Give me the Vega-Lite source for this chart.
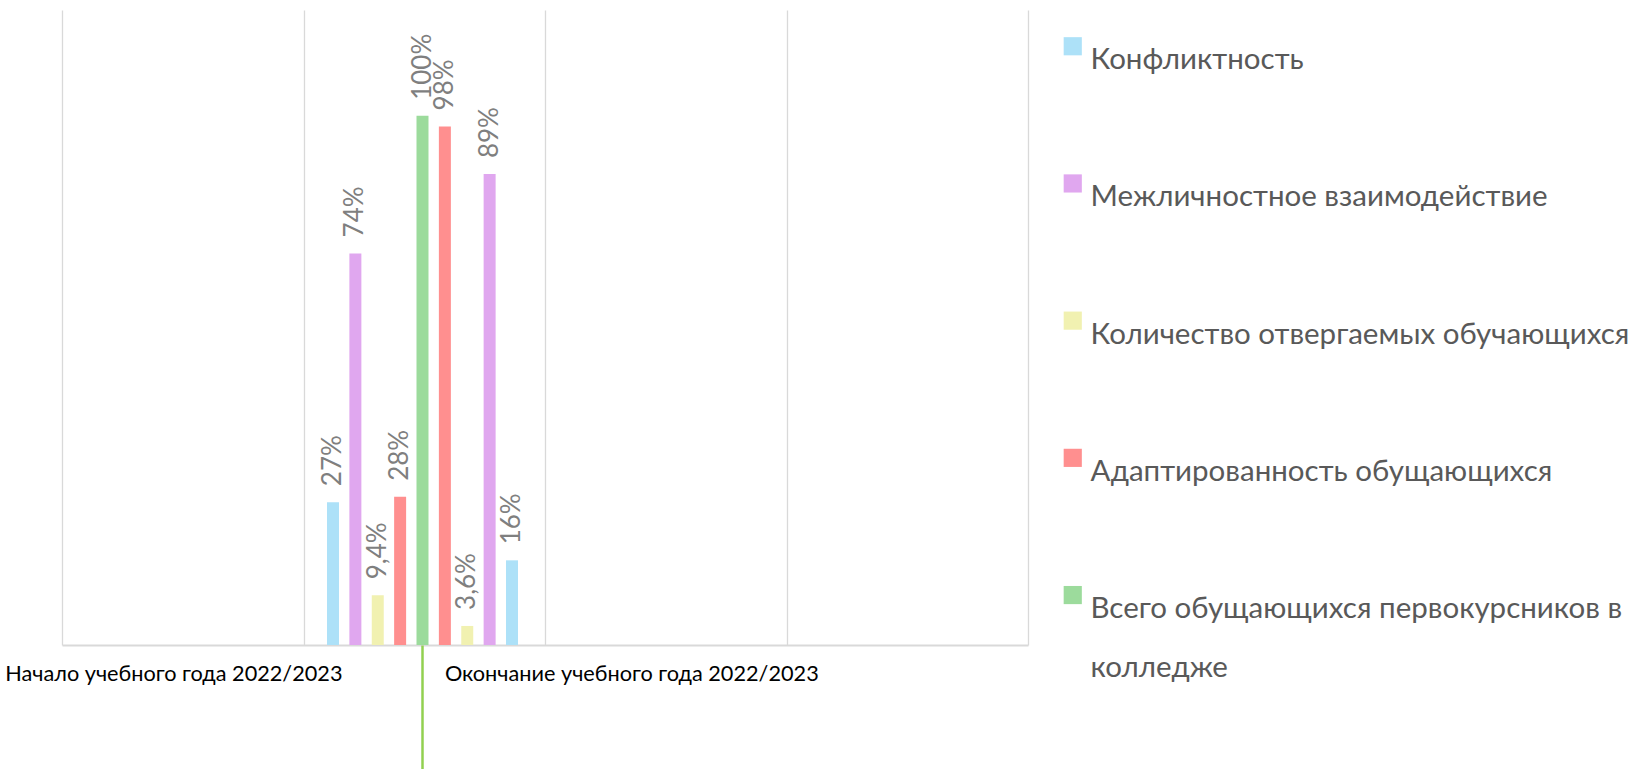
{
  "$schema": "https://vega.github.io/schema/vega-lite/v6.json",
  "width": 966,
  "height": 635,
  "autosize": {"type": "none"},
  "padding": {"left": 62, "top": 10, "right": 605, "bottom": 124},
  "background": "white",
  "config": {
    "view": {"stroke": null},
    "font": "Lato",
    "locale": {"number": {"decimal": ",", "thousands": "\u00a0", "grouping": [3], "currency": ["", " ₽"]}}
  },
  "data": {
    "values": [
      {"period": "Начало учебного года 2022/2023", "series": "Конфликтность", "value": 0.27},
      {"period": "Начало учебного года 2022/2023", "series": "Межличностное взаимодействие", "value": 0.74},
      {"period": "Начало учебного года 2022/2023", "series": "Количество отвергаемых обучающихся", "value": 0.094},
      {"period": "Начало учебного года 2022/2023", "series": "Адаптированность обущающихся", "value": 0.28},
      {"period": "Начало учебного года 2022/2023", "series": "Всего обущающихся первокурсников в колледже", "value": 1.0},
      {"period": "Окончание учебного года 2022/2023", "series": "Адаптированность обущающихся", "value": 0.98},
      {"period": "Окончание учебного года 2022/2023", "series": "Количество отвергаемых обучающихся", "value": 0.036},
      {"period": "Окончание учебного года 2022/2023", "series": "Межличностное взаимодействие", "value": 0.89},
      {"period": "Окончание учебного года 2022/2023", "series": "Конфликтность", "value": 0.16}
    ]
  },
  "transform": [{"calculate": "datum.period + ' | ' + datum.series", "as": "key"}],
  "layer": [
    {
      "mark": {"type": "rule", "opacity": 0},
      "encoding": {
        "x": {
          "datum": 0,
          "type": "quantitative",
          "scale": {"domain": [0, 4], "nice": false, "zero": false},
          "axis": {"orient": "bottom", "values": [0, 1, 2, 3, 4], "grid": true, "gridColor": "#d9d9d9", "gridWidth": 1.3, "labels": false, "ticks": false, "domain": true, "domainColor": "#d9d9d9", "domainWidth": 2, "title": null}
        }
      }
    },
    {
      "layer": [
        {
          "mark": {"type": "bar"},
          "encoding": {
            "x": {
              "field": "key",
              "type": "nominal",
              "sort": null,
              "scale": {"range": [265, 456], "paddingInner": 0.464, "paddingOuter": 0},
              "axis": {
                "orient": "bottom",
                "title": null,
                "grid": false,
                "domain": false,
                "tickSize": 124,
                "tickWidth": 2.5,
                "tickColor": {"condition": {"test": "indexof(datum.value, 'Всего') >= 0", "value": "#92d050"}, "value": "transparent"},
                "labelExpr": "indexof(datum.value, 'Всего') >= 0 || datum.value == 'Окончание учебного года 2022/2023 | Адаптированность обущающихся' ? split(datum.value, ' | ')[0] : ''",
                "labelAlign": {"condition": {"test": "indexof(datum.value, 'Всего') >= 0", "value": "right"}, "value": "left"},
                "labelOffset": {"condition": {"test": "indexof(datum.value, 'Всего') >= 0", "value": -80}, "value": 0},
                "labelPadding": -106,
                "labelFontSize": 21.7,
                "labelColor": "#000000",
                "labelAngle": 0,
                "labelOverlap": false,
                "labelBound": false,
                "labelFlush": false,
                "labelLimit": 0
              }
            },
            "y": {
              "field": "value",
              "type": "quantitative",
              "scale": {"domain": [0, 1.2], "nice": false},
              "axis": null
            },
            "color": {
              "field": "series",
              "type": "nominal",
              "scale": {
                "domain": ["Конфликтность", "Межличностное взаимодействие", "Количество отвергаемых обучающихся", "Адаптированность обущающихся", "Всего обущающихся первокурсников в колледже"],
                "range": ["#ade1f8", "#e0a7ef", "#f1f1b1", "#ff8f8f", "#9cdb9c"]
              },
              "legend": {
                "orient": "none",
                "legendX": 996,
                "legendY": 21.5,
                "title": null,
                "padding": 0,
                "symbolType": "square",
                "symbolSize": 330,
                "symbolStrokeWidth": 0,
                "labelFontSize": 29.5,
                "labelColor": "#595959",
                "labelFont": "Lato",
                "labelBaseline": "top",
                "labelOffset": 3,
                "rowPadding": 93.2,
                "labelLimit": 0,
                "labelExpr": "datum.label == 'Всего обущающихся первокурсников в колледже' ? ['Всего обущающихся первокурсников в', 'колледже'] : datum.label",
                "encode": {"labels": {"update": {"lineHeight": {"value": 59}}}}
              }
            }
          }
        },
        {
          "mark": {"type": "text", "angle": 270, "align": "left", "baseline": "middle", "dx": 16, "fontSize": 26, "color": "#7f7f7f", "font": "Lato"},
          "encoding": {
            "x": {"field": "key", "type": "nominal", "sort": null},
            "y": {"field": "value", "type": "quantitative"},
            "text": {"field": "value", "type": "quantitative", "format": ".2~%"}
          }
        }
      ]
    }
  ],
  "resolve": {"scale": {"x": "independent"}, "axis": {"x": "independent"}}
}
